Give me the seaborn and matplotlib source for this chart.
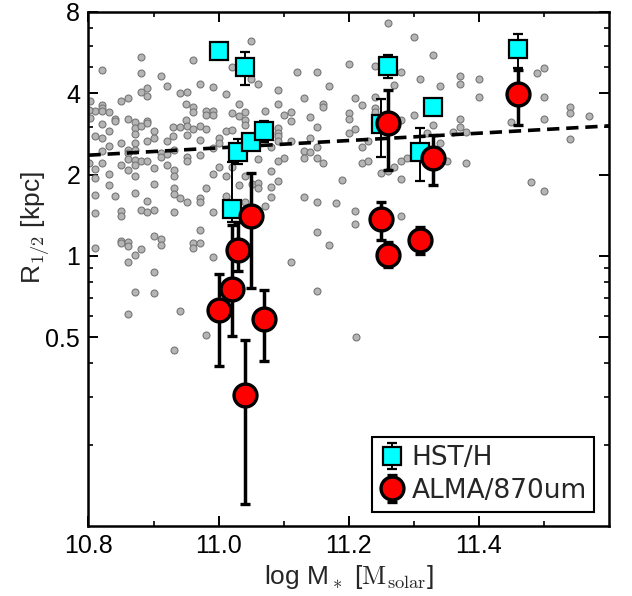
import numpy as np
import pandas as pd
import matplotlib
matplotlib.use("Agg")
import matplotlib.pyplot as plt
import seaborn as sns
from matplotlib.ticker import FixedLocator, FixedFormatter, LogLocator, NullFormatter

# ----------------------------------------------------------
# Background sample (grey points)
bg_logm = [
    11.050, 10.880, 10.821, 10.961, 10.880, 10.911, 11.020, 11.050, 11.061, 10.921,
    10.971, 10.991, 10.890, 10.890, 10.880, 10.941, 10.951, 11.011, 10.861, 10.850,
    10.802, 11.031, 10.950, 10.961, 10.821, 10.821, 10.810, 10.821, 10.831, 10.801,
    10.961, 10.981, 10.991, 10.980, 10.991, 11.020, 11.031, 11.041, 11.071, 10.841,
    10.861, 10.841, 10.890, 10.890, 10.871, 10.950, 10.821, 10.871, 10.880, 10.930,
    10.941, 10.951, 10.971, 10.961, 10.981, 11.041, 11.041, 10.831, 10.901, 11.011,
    11.020, 10.930, 10.871, 10.802, 10.801,
    10.810, 10.821, 10.850, 10.871, 10.890, 10.901, 10.921, 10.951, 10.971, 10.991,
    11.001, 11.001, 10.831, 10.821, 10.861, 10.861, 10.871, 10.911, 10.911, 10.921,
    10.931, 10.951, 10.951, 10.971, 10.861, 10.871, 10.881, 10.890, 10.871, 10.850,
    10.821, 10.810, 10.810, 10.831, 10.861, 10.901, 10.921, 10.931, 10.931, 10.871,
    10.991, 11.011, 11.001, 11.020, 11.061, 11.040, 10.831, 10.901, 10.931, 10.931,
    10.981, 11.032, 11.051, 11.061, 11.061, 10.810, 10.841, 10.871, 10.941, 10.951,
    10.971, 10.971, 11.011, 10.890, 10.901, 10.881, 10.890, 10.931, 10.991, 11.040,
    11.071, 10.810, 10.850, 10.850, 10.901, 10.911, 10.911, 10.850, 10.850, 10.861,
    10.861, 10.881, 10.961, 10.961, 10.971, 10.971, 10.810, 10.871, 10.861, 10.991,
    10.901, 10.871, 10.901, 10.861, 10.941, 10.981, 10.931,
    11.261, 11.300, 11.330, 11.200, 11.240, 11.280, 11.120, 11.151, 11.310, 11.270,
    11.170, 11.340, 11.091, 11.131, 11.210, 11.240, 11.091, 11.160, 11.160, 11.220,
    11.111, 11.101, 11.111, 11.141, 11.200, 11.200, 11.240, 11.240, 11.300, 11.280,
    11.151, 11.091, 11.091, 11.200, 11.210, 11.330, 11.320,
    11.091, 11.091, 11.080, 11.111, 11.141, 11.131, 11.141, 11.151, 11.131, 11.151,
    11.160, 11.101, 11.091, 11.221, 11.230, 11.221, 11.230, 11.280, 11.290, 11.270,
    11.250, 11.261, 11.280, 11.080, 11.091, 11.080, 11.080, 11.190, 11.131, 11.151,
    11.180, 11.210, 11.210, 11.280, 11.151, 11.170, 11.111,
    11.371, 11.371, 11.400, 11.400, 11.490, 11.500, 11.500, 11.371, 11.371, 11.360,
    11.380, 11.450, 11.500, 11.540, 11.540, 11.570, 11.540, 11.341, 11.351, 11.380,
    11.480, 11.500, 11.211, 11.151,
]
bg_r = [
    6.25, 5.47, 4.89, 5.30, 4.75, 4.62, 5.02, 4.51, 4.32, 4.26,
    4.33, 4.23, 4.18, 3.91, 4.03, 4.00, 4.05, 3.98, 3.84, 3.76,
    3.76, 3.66, 3.65, 3.57, 3.61, 3.53, 3.45, 3.45, 3.42, 3.47,
    3.42, 3.44, 3.45, 3.33, 3.33, 3.38, 3.30, 3.41, 3.45, 3.22,
    3.21, 3.17, 3.17, 3.10, 3.12, 3.19, 3.07, 2.97, 3.03, 3.01,
    3.01, 3.03, 3.03, 2.96, 2.96, 3.19, 3.06, 2.91, 2.91, 2.89,
    2.93, 2.78, 2.83, 3.24, 2.20,
    2.77, 2.74, 2.62, 2.62, 2.66, 2.73, 2.67, 2.81, 2.69, 2.51,
    2.73, 2.62, 2.56, 2.44, 2.47, 2.40, 2.47, 2.40, 2.33, 2.38,
    2.46, 2.33, 2.25, 2.37, 2.29, 2.27, 2.24, 2.24, 2.17, 2.17,
    2.20, 2.10, 1.94, 2.01, 2.08, 2.11, 2.17, 2.08, 1.97, 1.98,
    2.01, 1.98, 2.14, 2.14, 2.29, 1.98, 1.83, 1.85, 1.78, 1.70,
    1.79, 1.83, 1.84, 1.86, 1.78, 1.68, 1.66, 1.71, 1.64, 1.58,
    1.64, 1.59, 1.66, 1.60, 1.48, 1.48, 1.45, 1.46, 1.45, 1.59,
    1.53, 1.44, 1.47, 1.41, 1.18, 1.16, 1.10, 1.14, 1.12, 1.13,
    1.09, 1.06, 1.12, 1.07, 1.12, 1.25, 1.07, 1.01, 0.95, 0.99,
    0.875, 0.734, 0.729, 0.61, 0.624, 0.51, 0.45,
    7.31, 6.47, 5.55, 5.15, 5.03, 4.80, 4.79, 4.79, 4.53, 4.31,
    4.26, 4.26, 4.10, 3.83, 3.84, 3.87, 3.64, 3.64, 3.57, 3.62,
    3.42, 3.33, 3.15, 3.26, 3.39, 3.22, 3.52, 3.42, 3.33, 3.19,
    3.01, 2.98, 2.86, 2.86, 2.94, 3.06, 2.86,
    2.77, 2.67, 2.52, 2.67, 2.74, 2.45, 2.42, 2.52, 2.31, 2.31,
    2.21, 2.31, 2.25, 2.53, 2.67, 2.20, 2.24, 2.24, 2.31, 2.14,
    2.02, 2.06, 1.92, 2.06, 1.90, 1.80, 1.65, 1.91, 1.65, 1.58,
    1.57, 1.47, 1.31, 1.40, 1.23, 1.10, 0.95,
    4.64, 4.34, 4.50, 3.86, 4.75, 4.98, 3.87, 3.22, 2.99, 2.87,
    2.88, 3.14, 3.22, 3.55, 3.38, 3.29, 2.70, 2.62, 2.25, 2.20,
    1.87, 1.74, 0.50, 0.74,
]

# size-mass relation (dashed line)
fit_logm = [10.8, 11.6]
fit_r = [2.36, 3.03]

# HST/H sizes with lower / upper bounds
hst_logm = [11.00, 11.04, 11.03, 11.05, 11.07, 11.02, 11.25, 11.26, 11.33, 11.31, 11.46]
hst_r = [5.76, 5.02, 2.43, 2.65, 2.89, 1.49, 3.08, 5.05, 3.57, 2.43, 5.82]
hst_lo = [5.76, 4.29, 2.19, 2.58, 2.65, 1.33, 2.33, 4.54, 3.57, 1.90, 4.95]
hst_hi = [5.76, 5.70, 2.72, 2.73, 3.17, 2.22, 3.81, 5.54, 3.57, 2.97, 6.61]

# ALMA/870um sizes with lower / upper bounds
alma_logm = [11.00, 11.02, 11.03, 11.05, 11.04, 11.07, 11.25, 11.26, 11.31, 11.26, 11.33, 11.46]
alma_r = [0.63, 0.755, 1.05, 1.40, 0.306, 0.584, 1.37, 1.01, 1.15, 3.10, 2.31, 3.98]
alma_lo = [0.39, 0.505, 0.88, 0.76, 0.121, 0.41, 1.15, 0.91, 1.02, 2.08, 1.83, 3.05]
alma_hi = [0.86, 1.30, 1.33, 2.02, 0.49, 0.75, 1.59, 1.13, 1.28, 4.12, 2.81, 4.88]

x_ticks = [10.8, 11.0, 11.2, 11.4]
x_labels = ["10.8", "11.0", "11.2", "11.4"]
y_ticks = [0.5, 1, 2, 4, 8]
y_labels = ["0.5", "1", "2", "4", "8"]

# ----------------------------------------------------------
sns.set_theme(style="ticks")
plt.rcParams["font.family"] = ["Liberation Sans", "DejaVu Sans"]
plt.rcParams["mathtext.fontset"] = "cm"
plt.rcParams["axes.linewidth"] = 1.6
for ax_name in ["xtick", "ytick"]:
    plt.rcParams[f"{ax_name}.direction"] = "in"
    plt.rcParams[f"{ax_name}.major.size"] = 7
    plt.rcParams[f"{ax_name}.minor.size"] = 3.6
    plt.rcParams[f"{ax_name}.major.width"] = 1.4
    plt.rcParams[f"{ax_name}.minor.width"] = 1.2
    plt.rcParams[f"{ax_name}.color"] = "black"
    plt.rcParams[f"{ax_name}.labelsize"] = 18
    plt.rcParams[f"{ax_name}.major.pad"] = 6

fig = plt.figure(figsize=(6.32, 5.96), dpi=100)
ax = fig.add_axes([0.140, 0.1174, 0.8236, 0.8625])
ax.set_yscale("log")

df_bg = pd.DataFrame({"logm": bg_logm, "r": bg_r})
sns.scatterplot(data=df_bg, x="logm", y="r", s=25, color="#b5b5b5",
                edgecolor="#777777", linewidth=0.8, ax=ax, zorder=1, legend=False)

sns.lineplot(x=fit_logm, y=fit_r, color="black", lw=2.6, ax=ax, zorder=2,
             dashes=False, linestyle=(0, (3.4, 1.9)))

hst_r_a = np.array(hst_r)
hst_err = [hst_r_a - np.array(hst_lo), np.array(hst_hi) - hst_r_a]
eb_hst = ax.errorbar(hst_logm, hst_r, yerr=hst_err, fmt="s", ms=13.5,
                     mfc="#00ffff", mec="black", mew=1.6, ecolor="black",
                     elinewidth=1.4, capsize=3.8, capthick=2.2, zorder=3)

alma_r_a = np.array(alma_r)
alma_err = [alma_r_a - np.array(alma_lo), np.array(alma_hi) - alma_r_a]
eb_alma = ax.errorbar(alma_logm, alma_r, yerr=alma_err, fmt="o", ms=16.5,
                      mfc="#ff0000", mec="black", mew=2.4, ecolor="black",
                      elinewidth=2.5, capsize=3.8, capthick=2.5, zorder=4)

ax.set_xlim(10.8, 11.6)
ax.set_ylim(0.1, 8)

ax.xaxis.set_major_locator(FixedLocator(x_ticks))
ax.xaxis.set_major_formatter(FixedFormatter(x_labels))
ax.xaxis.set_minor_locator(FixedLocator([10.9, 11.1, 11.3, 11.5]))
ax.yaxis.set_major_locator(FixedLocator(y_ticks))
ax.yaxis.set_major_formatter(FixedFormatter(y_labels))
ax.yaxis.set_minor_locator(LogLocator(base=10, subs=np.arange(2, 10)))
ax.yaxis.set_minor_formatter(NullFormatter())
ax.tick_params(which="both", top=True, right=True)

for sp in ax.spines.values():
    sp.set_color("black")
    sp.set_linewidth(1.8)

ax.set_xlabel(r"log M$_*$ [$\mathrm{M_{solar}}$]", fontsize=19, labelpad=3)
ax.set_ylabel(r"R$_{\mathsf{1/2}}$ [kpc]", fontsize=19)
ax.yaxis.set_label_coords(-0.07, 0.58)

leg = ax.legend([eb_hst, eb_alma], ["HST/H", "ALMA/870um"], loc="lower right",
                prop={"family": ["DejaVu Sans"], "size": 19},
                frameon=True, fancybox=False, edgecolor="black",
                framealpha=1, handlelength=0.9, handletextpad=0.3,
                borderpad=0.3, labelspacing=0.25, borderaxespad=0.55)
leg.get_frame().set_linewidth(1.5)

fig.savefig("out.png", dpi=100)
